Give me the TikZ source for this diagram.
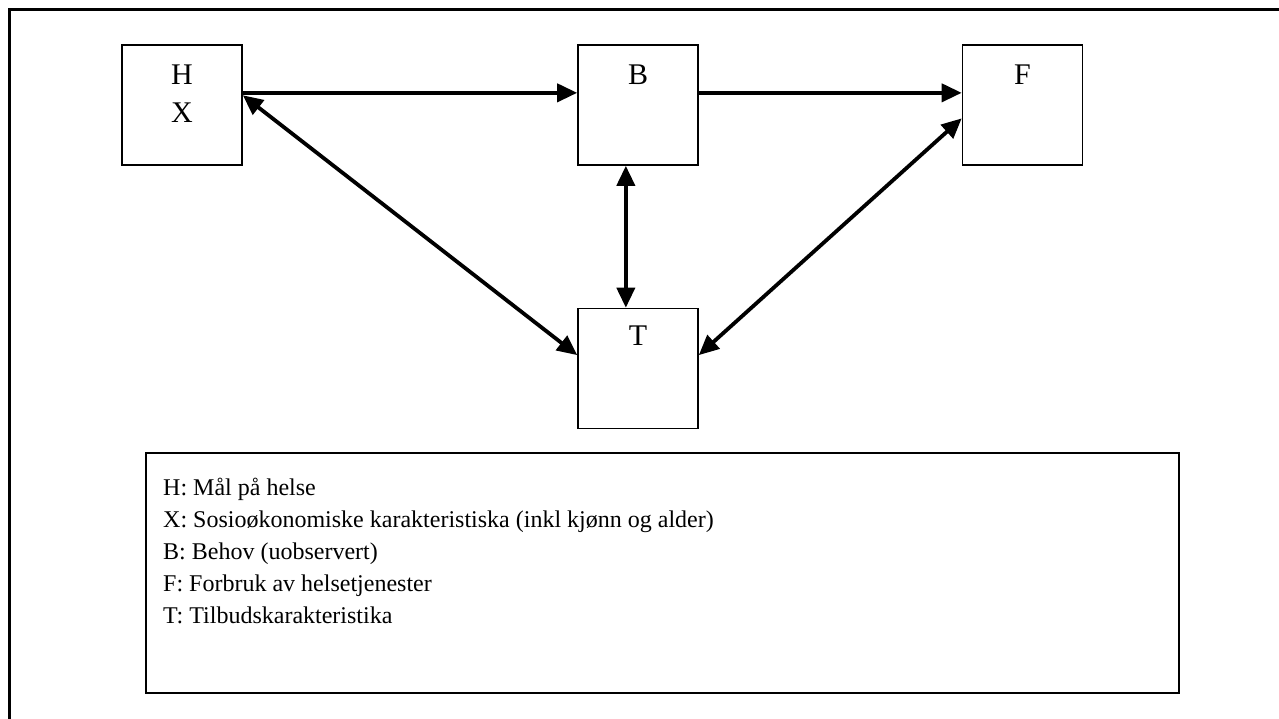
\documentclass[tikz,border=0pt]{standalone}
\usepackage{fontspec}
\setmainfont{Liberation Serif}
\usetikzlibrary{arrows.meta,calc,positioning}

\begin{document}
\begin{tikzpicture}[x=1pt, y=-1pt,
        box/.style={rectangle, draw, line width=1.6pt, minimum width=120pt, minimum height=120pt, inner sep=0pt},
        lbl/.style={anchor=base, align=center, inner sep=0pt, font=\fontsize{30}{38}\selectfont},
        legend/.style={rectangle, draw, line width=2.2pt, minimum width=1033pt, minimum height=240pt, inner sep=0pt},
        arrow/.style={-{Triangle[length=20pt,width=18pt]}, line width=3.8pt},
        both/.style={{Triangle[length=20pt,width=18pt]}-{Triangle[length=20pt,width=18pt]}, line width=3.8pt}]

      \clip (0,0) rectangle (1279,719);
      % outer frame, cut by the page on the right and at the bottom
      \draw[line width=3pt] (9,740) -- (9,10) -- (1300,10);

      \node[box] (H) at (182,105) {};
      \node[box] (B) at (638,105) {};
      \node[box] (F) at (1022.5,105) {};
      \node[box] (T) at (638,368.5) {};

      % base of a two-line node is the base of its last line
      \node[lbl] (Hlbl) at ([yshift=-78pt]H.north) {H\\X};
      \node[lbl] (Blbl) at ([yshift=-40pt]B.north) {B};
      \node[lbl] (Flbl) at ([yshift=-40pt]F.north) {F};
      \node[lbl] (Tlbl) at ([yshift=-38pt]T.north) {T};

      \node[legend] (leg) at (662.5,573) {};
      \node[anchor=base west, align=left, inner sep=0pt, font=\fontsize{24}{32}\selectfont] (legtxt) at (163,623)
        {H: Mål på helse\\
         X: Sosioøkonomiske karakteristiska (inkl kjønn og alder)\\
         B: Behov (uobservert)\\
         F: Forbruk av helsetjenester\\
         T: Tilbudskarakteristika};

      \draw[arrow] ($(H.north east)!0.4!(H.south east)$) -- ($(B.north west)!0.4!(B.south west)$);
      \draw[arrow] ($(B.north east)!0.4!(B.south east)$) -- ($(F.north west)!0.4!(F.south west)$);
      \draw[both] ($(H.north east)!0.42!(H.south east)$) -- ($(T.north west)!0.39!(T.south west)$);
      \draw[both] ($(B.south west)!0.4!(B.south east)$) -- ($(T.north west)!0.4!(T.north east)$);
      \draw[both] ($(F.north west)!0.61!(F.south west)$) -- ($(T.north east)!0.39!(T.south east)$);
    \end{tikzpicture}
\end{document}
